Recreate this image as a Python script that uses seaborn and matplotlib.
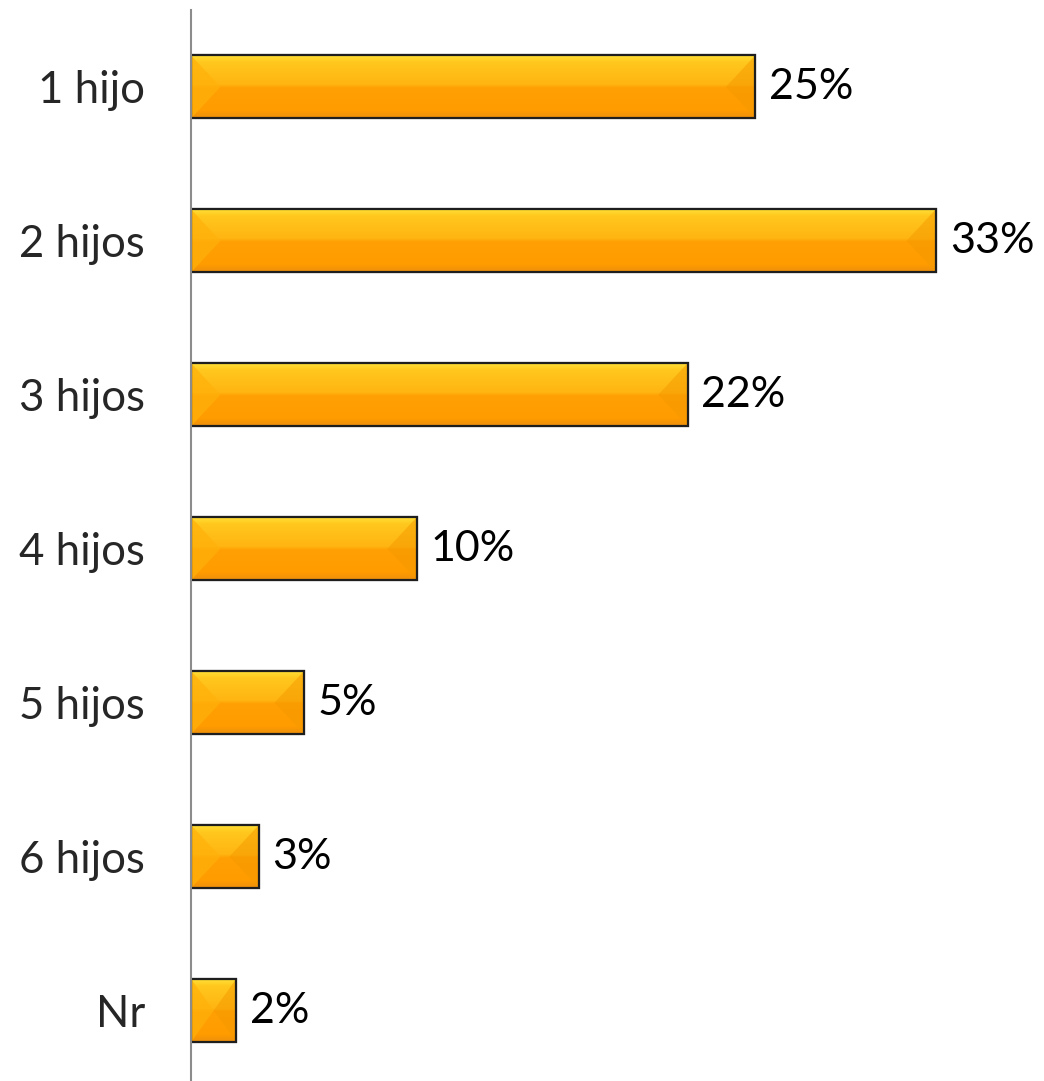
import numpy as np
import pandas as pd
import matplotlib
matplotlib.use("Agg")
import matplotlib.pyplot as plt
from matplotlib.colors import LinearSegmentedColormap
from matplotlib.patches import Polygon
import seaborn as sns

# Data
categories = ["1 hijo", "2 hijos", "3 hijos", "4 hijos", "5 hijos", "6 hijos", "Nr"]
percentages = [25, 33, 22, 10, 5, 3, 2]

df = pd.DataFrame({"Hijos": categories, "Porcentaje": percentages})

sns.set_style("white")
plt.rcParams["font.family"] = ["Lato", "DejaVu Sans"]

fig = plt.figure(figsize=(10.44, 10.81), dpi=100)
ax = fig.add_axes([0.183, -0.006, 0.789, 0.9968])

sns.barplot(data=df, x="Porcentaje", y="Hijos", orient="h", color="#FFA200",
            width=0.41, edgecolor="#1e1e1e", linewidth=1.5, saturation=1, ax=ax)

# glossy vertical gradient inside each bar
grad = LinearSegmentedColormap.from_list(
    "bar", [(0.0, "#FFE33C"), (0.12, "#FFC81E"), (0.48, "#FFB412"),
            (0.52, "#FFA004"), (0.88, "#FF9C00"), (1.0, "#EE8F0C")])
g = np.linspace(0, 1, 256).reshape(-1, 1)
for p in ax.patches:
    x0, y0 = p.get_x(), p.get_y()
    w, h = p.get_width(), p.get_height()
    im = ax.imshow(g, cmap=grad, aspect="auto", extent=[x0, x0 + w, y0 + h, y0],
                   origin="upper", zorder=p.get_zorder() + 0.1)
    im.set_clip_path(p)
    d = min(1.3, w / 2)
    yc = y0 + h / 2
    # bevelled ends
    ax.add_patch(Polygon([[x0, y0], [x0 + d, yc], [x0, y0 + h]], closed=True,
                         facecolor="#FFB10A", alpha=0.7, lw=0,
                         zorder=p.get_zorder() + 0.2))
    ax.add_patch(Polygon([[x0 + w, y0], [x0 + w - d, yc], [x0 + w, y0 + h]], closed=True,
                         facecolor="#F59A00", alpha=0.5, lw=0,
                         zorder=p.get_zorder() + 0.2))
    ax.add_patch(Polygon([[x0, y0], [x0 + w, y0], [x0 + w, y0 + h], [x0, y0 + h]],
                         closed=True, fill=False, edgecolor="#1e1e1e", lw=1.6,
                         zorder=p.get_zorder() + 0.3))

for i, v in enumerate(percentages):
    ax.annotate(f"{v}%", xy=(v, i), xytext=(10, 0), textcoords="offset points",
                va="center", ha="left", fontsize=31, color="black")

ax.set_xlim(0, 36.5)
ax.set_ylim(6.5, -0.5)
ax.set_xlabel("")
ax.set_ylabel("")
ax.set_xticks([])
ax.tick_params(axis="y", length=0, pad=33, labelsize=31.5)
for s in ["top", "right", "bottom"]:
    ax.spines[s].set_visible(False)
ax.spines["left"].set_color("#8c8c8c")
ax.spines["left"].set_linewidth(1.5)

fig.savefig("out.png", dpi=100)
